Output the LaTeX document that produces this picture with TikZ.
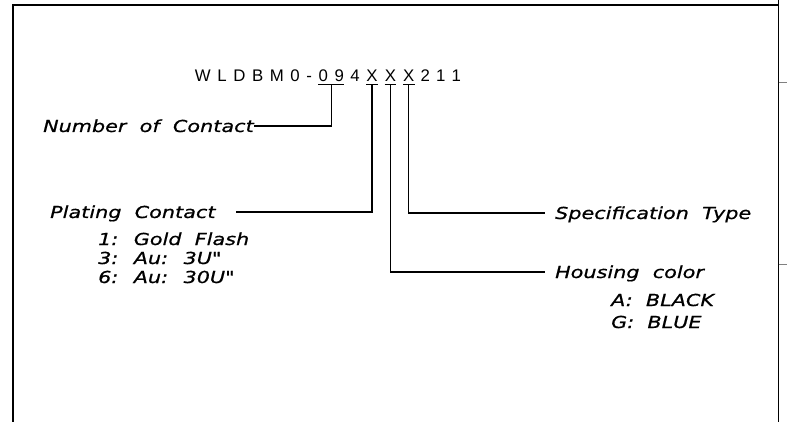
\documentclass[tikz,border=0pt]{standalone}
\usepackage{fontspec}
\setmainfont{Liberation Sans}
\newfontfamily\rotulo[FakeStretch=1.25,LetterSpace=0.5,WordSpace=2,FakeBold=0.8]{DejaVu Sans}
\usepackage{tikz}
\usetikzlibrary{positioning}
\tikzset{
  marco/.style={line width=2pt,black},
  guia/.style={line width=1.2pt,black},
  letra/.style={inner sep=0pt,anchor=base,font=\fontsize{16.8}{18}\selectfont},
  lbl/.style={inner sep=0pt,anchor=west,text height=12pt,text depth=0pt,font=\rotulo\itshape\fontsize{16.5}{18}\selectfont}
}

\begin{document}
\begin{tikzpicture}[x=1pt,y=-1pt]
\useasboundingbox (0,0) rectangle (787,422);
% marco de la hoja
\draw[marco] (12.5,422) -- (12.5,5.5) -- (778.5,5.5);
\draw[line width=0.8pt] (778.5,0) -- (778.5,422);
\foreach \y in {82.5,264}{\draw[gray,line width=0.8pt] (778.5,\y) -- (787,\y);}
% codigo de la pieza, a partir de la primera X
\node[letra] (c11) at (372,81.5) {X};
\foreach \ch [count=\i from 12, remember=\i as \j (initially 11)] in {X,X}{\node[letra,base right=6.8pt of c\j] (c\i) {\ch};}
\foreach \ch [count=\i from 14, remember=\i as \j (initially 13)] in {2,1,1}{\node[letra,base right=5.8pt of c\j] (c\i) {\ch};}
\foreach \ch [count=\k, evaluate=\k as \i using int(11-\k), evaluate=\k as \j using int(12-\k)] in {4,9,0,-,0,M,B,D,L,W}{\node[letra,base left=6.2pt of c\j] (c\i) {\ch};}
\draw[guia] ([yshift=-2.5pt]c8.south west) -- coordinate[midway] (n09) ([yshift=-2.5pt]c9.south east);
\foreach \i in {11,12,13}{\draw[guia] ([yshift=-2.5pt]c\i.south west) -- coordinate[midway] (b\i) ([yshift=-2.5pt]c\i.south east);}
% rotulos
\node[lbl] (ncont) at (43,126) {Number of Contact};
\node[lbl] (plate) at (50,212) {Plating Contact};
\node[lbl] (plate1) at (98,239) {1: Gold Flash};
\node[lbl] (plate3) at (98,258) {3: Au: 3U"};
\node[lbl] (plate6) at (98,277) {6: Au: 30U"};
\node[lbl] (spec) at (555,213) {Specification Type};
\node[lbl] (house) at (555,272) {Housing color};
\node[lbl] (houseA) at (611,300) {A: BLACK};
\node[lbl] (houseG) at (611,322) {G: BLUE};
% lineas guia
\draw[guia] (n09) |- (ncont.east);
\draw[guia,shorten >=20pt] (b11) |- (plate.east);
\draw[guia,shorten >=10pt] (b12) |- (house.west);
\draw[guia,shorten >=10pt] (b13) |- (spec.west);
\end{tikzpicture}
\end{document}
